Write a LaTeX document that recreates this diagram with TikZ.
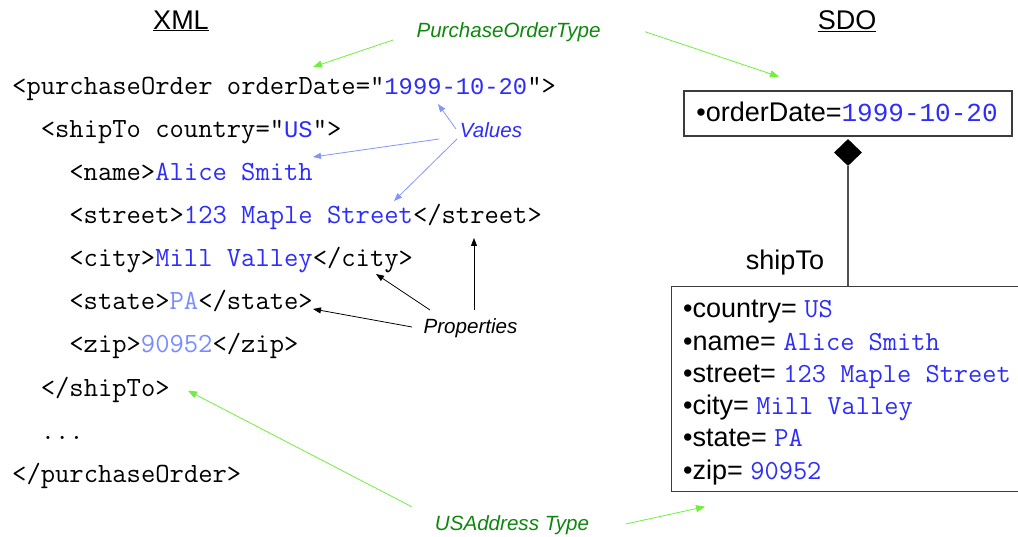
\documentclass[tikz,border=0pt]{standalone}
\usepackage{fontspec}
\setmainfont{Liberation Sans}
\newfontfamily\sansmono{Liberation Mono}
\usetikzlibrary{arrows.meta,shapes.geometric}
\definecolor{valblue}{RGB}{45,45,250}
\definecolor{lightval}{RGB}{120,140,255}
\definecolor{arrowgreen}{RGB}{110,240,60}
\definecolor{labelgreen}{RGB}{15,135,15}
\definecolor{arrowblue}{RGB}{130,150,250}
\definecolor{boxgray}{RGB}{60,60,60}
\newcommand{\valtxt}[1]{\textcolor{valblue}{#1}}
\newcommand{\lighttxt}[1]{\textcolor{lightval}{#1}}
\newcommand{\codeA}{\ttfamily\fontsize{27.8}{31}\selectfont}
\newcommand{\monoA}{\sansmono\fontsize{23.8}{28}\selectfont}
\newcommand{\codeB}{\sansmono\fontsize{26}{30}\selectfont}
\newcommand{\codeC}{\ttfamily\fontsize{27.6}{31}\selectfont}
\begin{document}
\begin{tikzpicture}[x=1pt,y=-1pt,
  code/.style={anchor=base west, inner sep=0pt, font=\codeA},
  lbl/.style={anchor=base, inner sep=0pt, font=\itshape\fontsize{20.6}{24}\selectfont},
  head/.style={anchor=base, inner sep=0pt, font=\fontsize{27}{31}\selectfont},
  attr/.style={anchor=base west, inner sep=0pt, font=\fontsize{27}{31}\selectfont},
  garrow/.style={draw=arrowgreen, line width=0.8pt, -{Triangle[length=9pt,width=7pt]}},
  barrow/.style={draw=arrowblue, line width=0.8pt, -{Triangle[length=8pt,width=6pt]}},
  karrow/.style={draw=black, line width=0.8pt, -{Triangle[length=8pt,width=6pt]}},
  umlbox/.style={draw=boxgray, line width=1.2pt, inner sep=0pt},
]
\useasboundingbox (0,0) rectangle (1018,537);

% headings
\node[head] (xml) at (181,29.3) {\underline{XML}};
\node[head] (sdo) at (847,29.3) {\underline{SDO}};

% XML code
\node[code] (l1) at (12,95) {<purchaseOrder orderDate="\valtxt{\monoA 1999-10-20}">};
\node[code] (l2) at (40.6,138) {<shipTo country="\valtxt{\monoA US}">};
\node[code] (l3) at (69.2,181) {<name>\valtxt{Alice Smith}};
\node[code] (l4) at (69.2,224) {<street>\valtxt{123 Maple Street}</street>};
\node[code] (l5) at (69.2,267) {<city>\valtxt{Mill Valley}</city>};
\node[code] (l6) at (69.2,310) {<state>\lighttxt{PA}</state>};
\node[code] (l7) at (69.2,353) {<zip>\lighttxt{90952}</zip>};
\node[code] (l8) at (40.6,396) {</shipTo>};
\node[code] (l9) at (40.6,439) {...};
\node[code] (l10) at (12,482) {</purchaseOrder>};

% labels
\node[lbl, text=labelgreen] (pot) at (508.5,37.5) {PurchaseOrderType};
\node[lbl, text=valblue] (values) at (491,137.5) {Values};
\node[lbl, text=black] (props) at (470.5,334) {Properties};
\node[lbl, text=labelgreen] (usa) at (512,530) {USAddress Type};

% arrow end points
\coordinate (potA) at (393,40);
\coordinate (potAt) at (313,67);
\coordinate (potB) at (645,31.7);
\coordinate (potBt) at (779,76.7);
\coordinate (vA) at (456,129);
\coordinate (vAt) at (438,104);
\coordinate (vB) at (439,139);
\coordinate (vBt) at (313,157);
\coordinate (vC) at (457,139);
\coordinate (vCt) at (394,201);
\coordinate (pA) at (474,310);
\coordinate (pAt) at (474,238);
\coordinate (pB) at (430,310);
\coordinate (pBt) at (376,274);
\coordinate (pC) at (412,327);
\coordinate (pCt) at (313,309);
\coordinate (uA) at (411.7,506.7);
\coordinate (uAt) at (188,390.7);
\coordinate (uB) at (625.6,524);
\coordinate (uBt) at (705,506.7);

\draw[garrow] (potA) -- (potAt);
\draw[garrow] (potB) -- (potBt);
\draw[barrow] (vA) -- (vAt);
\draw[barrow] (vB) -- (vBt);
\draw[barrow] (vC) -- (vCt);
\draw[karrow] (pA) -- (pAt);
\draw[karrow] (pB) -- (pBt);
\draw[karrow] (pC) -- (pCt);
\draw[garrow] (uA) -- (uAt);
\draw[garrow] (uB) -- (uBt);

% SDO
\node[umlbox, minimum width=328pt, minimum height=45pt] (obj) at (848,113.5) {};
\node[attr, anchor=base] (objtxt) at (847,121.7) {•orderDate=\valtxt{\codeB 1999-10-20}};
\node[diamond, fill=black, inner sep=0pt, minimum width=28pt, minimum height=27pt] (dia) at (848,152.5) {};

\begin{scope}
\clip (0,0) rectangle (1018,537);
\node[umlbox, minimum width=358pt, minimum height=205pt] (addr) at (850.7,389.2) {};
\end{scope}
\draw[draw=boxgray!90, line width=1.2pt] (dia.south) -- (dia.south |- addr.north);
\node[attr, anchor=base] (shipto) at (785,270) {shipTo};

\node[attr] (a1) at (683,318) {•country= \valtxt{\codeC US}};
\node[attr] (a2) at (683,350.2) {•name= \valtxt{\codeC Alice Smith}};
\node[attr] (a3) at (683,382.4) {•street= \valtxt{\codeC 123 Maple Street}};
\node[attr] (a4) at (683,414.6) {•city= \valtxt{\codeC Mill Valley}};
\node[attr] (a5) at (683,446.8) {•state= \valtxt{\codeC PA}};
\node[attr] (a6) at (683,479) {•zip= \valtxt{\codeC 90952}};
\end{tikzpicture}
\end{document}
